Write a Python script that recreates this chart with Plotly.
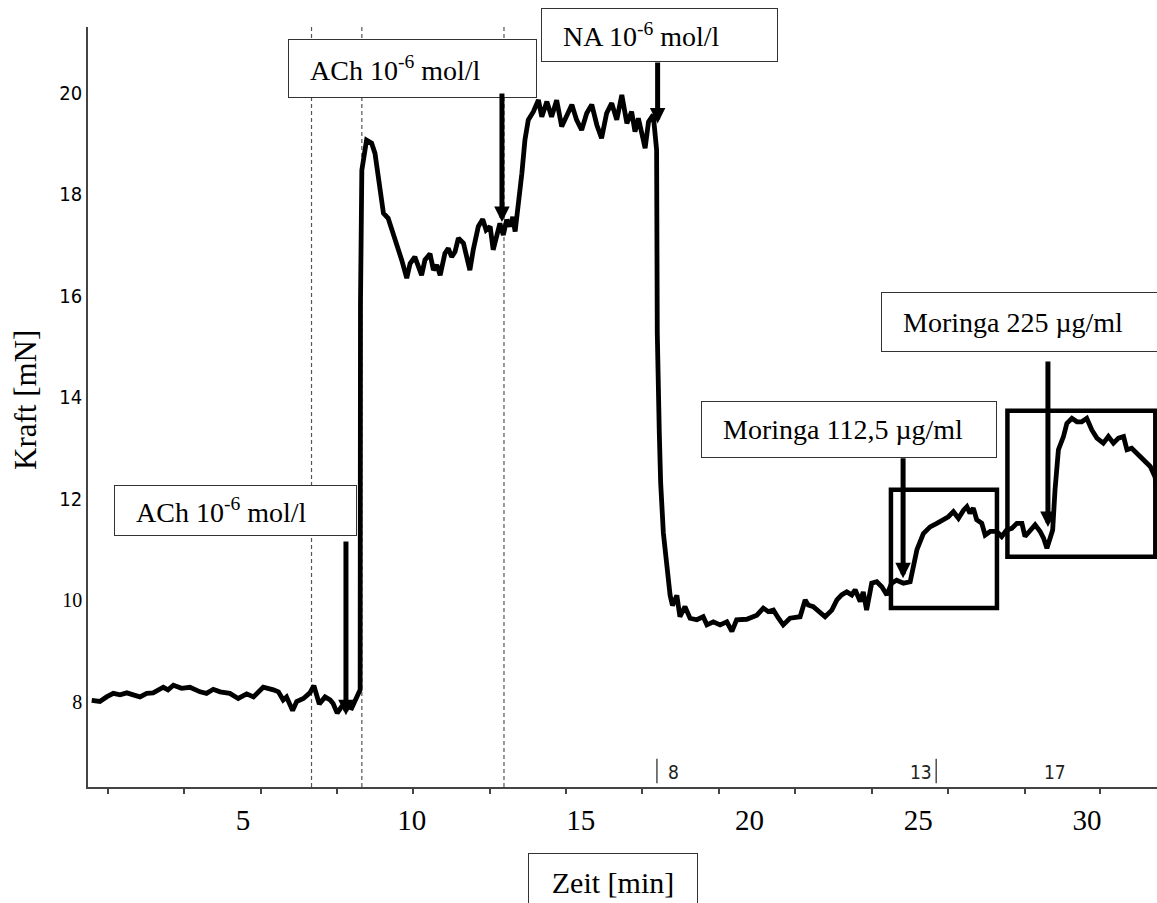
import plotly.graph_objects as go

# ---------------- data (time in min, force in mN) ----------------
baseline_t = [0.52, 0.76, 0.96, 1.16, 1.36, 1.56, 1.75, 1.95, 2.15, 2.34, 2.64, 2.78, 2.94, 3.18, 3.43,
              3.73, 3.92, 4.12, 4.32, 4.61, 4.86, 5.11, 5.31, 5.60, 5.90, 6.05, 6.19, 6.29, 6.47, 6.59,
              6.79, 6.98, 7.10, 7.18, 7.26, 7.43, 7.58, 7.67, 7.79, 7.92, 8.07, 8.22, 8.32, 8.42]
baseline_f = [8.03, 8.01, 8.10, 8.17, 8.14, 8.18, 8.14, 8.10, 8.17, 8.18, 8.29, 8.24, 8.33, 8.27, 8.29,
              8.20, 8.17, 8.25, 8.20, 8.17, 8.07, 8.16, 8.10, 8.29, 8.24, 8.20, 8.04, 8.10, 7.83, 8.01,
              8.07, 8.18, 8.32, 8.10, 7.96, 8.10, 8.04, 7.97, 7.78, 7.91, 7.91, 7.88, 8.01, 8.17]

ach_t = [8.47, 8.48, 8.52, 8.66, 8.81, 8.91, 9.01, 9.11, 9.16, 9.30, 9.45, 9.60, 9.70, 9.85, 9.95,
         10.09, 10.19, 10.29, 10.39, 10.54, 10.64, 10.74, 10.84, 10.98, 11.08, 11.18, 11.28, 11.38, 11.53, 11.63,
         11.72, 11.82, 11.97, 12.10, 12.20, 12.32, 12.41, 12.51, 12.61, 12.71, 12.81, 12.91, 12.99, 13.06, 13.15]
ach_f = [8.24, 15.86, 18.48, 19.07, 19.01, 18.81, 18.35, 18.02, 17.63, 17.53, 17.24, 16.97, 16.71, 16.35, 16.64,
         16.77, 16.58, 16.41, 16.71, 16.83, 16.51, 16.61, 16.41, 16.84, 16.94, 16.77, 16.87, 17.14, 17.04, 16.77,
         16.51, 16.91, 17.37, 17.51, 17.30, 17.37, 16.91, 17.17, 17.43, 17.20, 17.50, 17.37, 17.56, 17.27, 17.76]

plateau_t = [13.26, 13.35, 13.45, 13.60, 13.65, 13.75, 13.85, 14.00, 14.14, 14.29, 14.44, 14.59, 14.74, 14.88, 15.03,
             15.18, 15.33, 15.48, 15.62, 15.77, 15.92, 16.07, 16.22, 16.37, 16.51, 16.61, 16.71, 16.81, 16.91, 17.01,
             17.15, 17.25]
plateau_f = [18.42, 19.07, 19.47, 19.63, 19.73, 19.86, 19.53, 19.83, 19.53, 19.86, 19.34, 19.57, 19.77, 19.47, 19.27,
             19.60, 19.77, 19.37, 19.11, 19.60, 19.80, 19.47, 19.96, 19.40, 19.63, 19.24, 19.50, 19.21, 18.91, 19.43,
             19.57, 18.88]

drop_t = [17.26, 17.27, 17.33, 17.37, 17.45, 17.55, 17.65, 17.72]
drop_f = [17.44, 15.27, 13.30, 12.32, 11.33, 10.60, 10.10, 9.90]

low_t = [17.85, 17.94, 18.09, 18.24, 18.44, 18.63, 18.74, 18.93, 19.13, 19.33, 19.48, 19.62, 19.92, 20.22, 20.41,
         20.56, 20.71, 20.86, 21.00, 21.20, 21.50, 21.65, 21.74, 21.89, 22.04, 22.24, 22.44, 22.59, 22.73, 22.88,
         23.03, 23.13, 23.28, 23.37, 23.47, 23.62, 23.77, 23.92, 24.07, 24.21, 24.36, 24.56, 24.76]
low_f = [10.10, 9.68, 9.88, 9.65, 9.62, 9.68, 9.52, 9.58, 9.52, 9.58, 9.39, 9.62, 9.63, 9.71, 9.85,
         9.78, 9.81, 9.65, 9.52, 9.65, 9.68, 10.01, 9.91, 9.88, 9.78, 9.68, 9.81, 10.01, 10.11, 10.17,
         10.11, 10.21, 9.98, 10.17, 9.81, 10.34, 10.37, 10.27, 10.11, 10.34, 10.40, 10.34, 10.37]

moringa1_t = [24.86, 24.96, 25.15, 25.35, 25.55, 25.74, 25.89, 26.04, 26.19, 26.34, 26.44, 26.53, 26.63, 26.73, 26.88,
              26.98, 27.13, 27.32, 27.47, 27.62, 27.77, 27.92, 28.07, 28.16, 28.31, 28.46, 28.61, 28.71, 28.81, 28.90,
              28.98]
moringa1_f = [10.73, 11.00, 11.32, 11.45, 11.52, 11.59, 11.65, 11.75, 11.62, 11.78, 11.85, 11.72, 11.82, 11.59, 11.52,
              11.29, 11.36, 11.36, 11.26, 11.39, 11.42, 11.52, 11.52, 11.26, 11.39, 11.49, 11.36, 11.23, 11.03, 11.26,
              11.39]

moringa2_t = [29.05, 29.15, 29.30, 29.40, 29.55, 29.70, 29.84, 29.99, 30.14, 30.29, 30.48, 30.63, 30.78, 30.93, 31.08,
              31.18, 31.32, 31.47, 31.67, 31.87, 32.01, 32.06]
moringa2_f = [12.18, 12.97, 13.23, 13.49, 13.59, 13.52, 13.52, 13.59, 13.36, 13.20, 13.10, 13.23, 13.10, 13.20, 13.23,
              12.97, 13.00, 12.90, 12.77, 12.64, 12.44, 12.24]

time_min = baseline_t + ach_t + plateau_t + drop_t + low_t + moringa1_t + moringa2_t
force_mN = baseline_f + ach_f + plateau_f + drop_f + low_f + moringa1_f + moringa2_f

# axis ticks
x_tick_vals = [5, 10, 15, 20, 25, 30]
x_tick_text = ["5", "10", "15", "20", "25", "30"]
x_mark_vals = [0.99, 3.25, 5.53, 7.78, 10.03, 12.31, 14.57, 16.82, 19.10, 21.35, 23.63, 25.89, 28.16, 30.38]
y_tick_vals = [8, 10, 12, 14, 16, 18, 20]
y_tick_text = ["8", "10", "12", "14", "16", "18", "20"]

# events (substance additions)
event_labels = ["ACh 10<sup>-6</sup> mol/l", "ACh 10<sup>-6</sup> mol/l", "NA 10<sup>-6</sup> mol/l",
                "Moringa 112,5 µg/ml", "Moringa 225 µg/ml"]
event_t = [8.05, 12.67, 17.28, 24.55, 28.84]
event_tip_f = [7.74, 17.46, 19.40, 10.44, 11.45]
event_tail_f = [11.19, 20.02, 20.63, 12.83, 14.74]

dashed_t = [7.03, 8.52, 12.73]

section_labels = ["8", "13", "17"]
section_label_t = [17.74, 25.08, 29.05]
section_bar_t = [17.26, 25.53]

# ---------------- layout helpers (box positions / sizes) ----------------
box_cx = [4.78, 10.02, 17.34, 22.95, 28.0]
box_cy = [11.77, 20.48, 21.14, 13.37, 15.49]
box_w = [241, 247, 235, 294, 276]
box_h = [49, 57, 52, 55, 58]

highlight_rects = [(24.19, 9.85, 27.33, 12.18), (27.64, 10.86, 32.02, 13.74)]

SERIF = "Liberation Serif, Times New Roman, serif"
NARROW = "Liberation Sans Narrow, Arial Narrow, DejaVu Sans Condensed, sans-serif"

fig = go.Figure()
fig.add_trace(go.Scatter(x=time_min, y=force_mN, mode="lines",
                         line=dict(color="black", width=4.8),
                         hoverinfo="skip", showlegend=False))

shapes = []
for t in dashed_t:
    shapes.append(dict(type="line", xref="x", yref="paper", x0=t, x1=t, y0=0, y1=1,
                       line=dict(color="#555555", width=1.2, dash="4px,3px"), layer="below"))
for (x0, y0, x1, y1) in highlight_rects:
    shapes.append(dict(type="rect", xref="x", yref="y", x0=x0, y0=y0, x1=x1, y1=y1,
                       line=dict(color="black", width=4.5), fillcolor="rgba(0,0,0,0)", layer="above"))
for t in section_bar_t:
    shapes.append(dict(type="line", xref="x", yref="y", x0=t, x1=t, y0=6.40, y1=6.88,
                       line=dict(color="#333333", width=1.3)))

annotations = []
pad = "\u00a0\u00a0\u00a0"
for i, lab in enumerate(event_labels):
    annotations.append(dict(x=box_cx[i], y=box_cy[i], xref="x", yref="y", text=pad + lab,
                            xanchor="center", yanchor="middle",
                            showarrow=False, width=box_w[i], height=box_h[i], align="left", valign="middle",
                            bgcolor="white", bordercolor="#333333", borderwidth=1, borderpad=0,
                            font=dict(family=SERIF, size=28, color="black")))
for i in range(len(event_t)):
    annotations.append(dict(x=event_t[i], y=event_tip_f[i], xref="x", yref="y",
                            ax=event_t[i], ay=event_tail_f[i], axref="x", ayref="y",
                            text="", showarrow=True, arrowhead=2, arrowsize=0.62, arrowwidth=5,
                            arrowcolor="black", standoff=0, startstandoff=0))
for i, lab in enumerate(section_labels):
    annotations.append(dict(x=section_label_t[i], y=6.62, xref="x", yref="y", text=lab, showarrow=False,
                            xanchor="center", yanchor="middle",
                            font=dict(family=NARROW, size=19, color="#222222")))

# axis titles
annotations.append(dict(x=(25 - 88) / 1069, y=(787 - 400) / 760, xref="paper", yref="paper",
                        xanchor="center", yanchor="middle",
                        text="Kraft [mN]", textangle=-90, showarrow=False,
                        font=dict(family=SERIF, size=31, color="black")))
annotations.append(dict(x=(612.5 - 88) / 1069, y=(787 - 882) / 760, xref="paper", yref="paper",
                        xanchor="center", yanchor="middle",
                        text="Zeit [min]", showarrow=False, width=168, height=56, borderpad=0,
                        bordercolor="#333333", borderwidth=1, bgcolor="white",
                        font=dict(family=SERIF, size=30, color="black")))

y_text_styled = []
for v, s in zip(y_tick_vals, y_tick_text):
    if v <= 10:
        y_text_styled.append('<span style="font-family:Liberation Serif;font-size:20px">' + s + '</span>')
    else:
        y_text_styled.append(s)

fig.update_layout(
    width=1157, height=903, autosize=False,
    margin=dict(l=88, r=0, t=27, b=116),
    paper_bgcolor="white", plot_bgcolor="white",
    font=dict(family=SERIF, color="black"),
    showlegend=False,
    shapes=shapes, annotations=annotations,
    xaxis=dict(range=[0.41, 32.07], showgrid=False, zeroline=False,
               showline=True, linecolor="#444444", linewidth=1.5,
               tickmode="array", tickvals=x_tick_vals, ticktext=x_tick_text, ticks="",
               ticklabelstandoff=6,
               tickfont=dict(family=SERIF, size=29, color="black"),
               minor=dict(tickmode="array", tickvals=x_mark_vals, ticks="outside", ticklen=5,
                          tickwidth=1.5, tickcolor="#444444")),
    yaxis=dict(range=[6.325, 21.30], showgrid=False, zeroline=False,
               showline=True, linecolor="#444444", linewidth=1.5,
               tickmode="array", tickvals=y_tick_vals, ticktext=y_text_styled, ticks="",
               tickfont=dict(family=NARROW, size=20, color="black")),
)

fig.write_html("out.html")
